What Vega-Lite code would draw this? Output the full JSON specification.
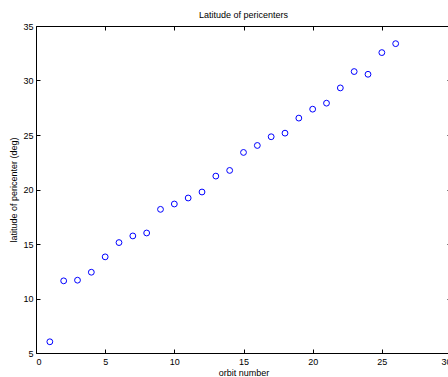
{
  "$schema": "https://vega.github.io/schema/vega-lite/v6.json",
  "autosize": "none",
  "width": 415,
  "height": 327,
  "padding": {"left": 36, "top": 26, "right": -3, "bottom": 24},
  "background": "white",
  "title": {"text": "Latitude of pericenters", "font": "Liberation Sans", "fontSize": 9, "fontWeight": "normal", "color": "black", "offset": 2, "anchor": "middle"},
  "config": {
    "view": {"stroke": null},
    "axis": {"domainColor": "black", "tickColor": "black", "labelColor": "black", "titleColor": "black", "labelFont": "Liberation Sans", "titleFont": "Liberation Sans", "labelFontSize": 9, "titleFontSize": 9, "titleFontWeight": "normal", "grid": false, "tickSize": -4, "domainWidth": 1, "tickWidth": 1}
  },
  "data": {"values": [
    {"orbit": 1, "lat": 6.03},
    {"orbit": 2, "lat": 11.62},
    {"orbit": 3, "lat": 11.68},
    {"orbit": 4, "lat": 12.41},
    {"orbit": 5, "lat": 13.82},
    {"orbit": 6, "lat": 15.13},
    {"orbit": 7, "lat": 15.74},
    {"orbit": 8, "lat": 16.01},
    {"orbit": 9, "lat": 18.18},
    {"orbit": 10, "lat": 18.67},
    {"orbit": 11, "lat": 19.22},
    {"orbit": 12, "lat": 19.77},
    {"orbit": 13, "lat": 21.23},
    {"orbit": 14, "lat": 21.75},
    {"orbit": 15, "lat": 23.40},
    {"orbit": 16, "lat": 24.04},
    {"orbit": 17, "lat": 24.84},
    {"orbit": 18, "lat": 25.17},
    {"orbit": 19, "lat": 26.55},
    {"orbit": 20, "lat": 27.37},
    {"orbit": 21, "lat": 27.92},
    {"orbit": 22, "lat": 29.32},
    {"orbit": 23, "lat": 30.82},
    {"orbit": 24, "lat": 30.57},
    {"orbit": 25, "lat": 32.56},
    {"orbit": 26, "lat": 33.38}
  ]},
  "layer": [
    {
      "mark": {"type": "point", "filled": false, "color": "#0000ff", "size": 34, "strokeWidth": 1, "opacity": 1},
      "encoding": {
        "x": {"field": "orbit", "type": "quantitative", "scale": {"domain": [0, 30], "nice": false}, "axis": {"orient": "bottom", "title": "orbit number", "values": [0, 5, 10, 15, 20, 25, 30], "labelPadding": 8, "titleY": 19, "titleBaseline": "middle"}},
        "y": {"field": "lat", "type": "quantitative", "scale": {"domain": [5, 35], "nice": false, "zero": false}, "axis": {"orient": "left", "title": "latitude of pericenter (deg)", "values": [5, 10, 15, 20, 25, 30, 35], "labelPadding": 7, "titleX": -23, "titleBaseline": "middle"}}
      }
    },
    {
      "mark": {"type": "point", "opacity": 0},
      "encoding": {
        "x": {"field": "orbit", "type": "quantitative", "scale": {"domain": [0, 30], "nice": false}, "axis": {"orient": "top", "title": null, "labels": false, "values": [0, 5, 10, 15, 20, 25, 30]}},
        "y": {"field": "lat", "type": "quantitative", "scale": {"domain": [5, 35], "nice": false, "zero": false}, "axis": {"orient": "right", "title": null, "labels": false, "values": [5, 10, 15, 20, 25, 30, 35]}}
      }
    }
  ],
  "resolve": {"axis": {"x": "independent", "y": "independent"}}
}
